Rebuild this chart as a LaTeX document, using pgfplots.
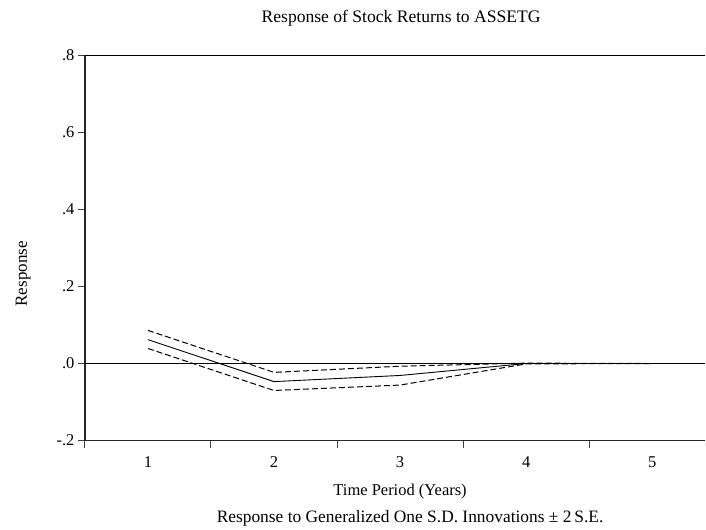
\documentclass[border=0pt]{standalone}
\usepackage{pgfplots}
\pgfplotsset{compat=1.18}
\usepackage{pgfplotstable}
\usepackage{fontspec}
\setmainfont{Liberation Serif}

% Impulse response: x = period, resp = response, up/lo = +/- 2 S.E. bands
\pgfplotstableread{
x  resp    up      lo
1  0.062   0.086   0.039
2  -0.047  -0.023  -0.070
3  -0.031  -0.007  -0.056
4  0.000   0.001   -0.001
5  0.000   0.000   0.000
}\irf

\begin{document}
\begin{tikzpicture}
\begin{axis}[
  at={(0pt,0pt)}, anchor=south west,
  scale only axis,
  width=621pt, height=385.5pt,
  xmin=0.5, xmax=5.4208,
  ymin=-0.2, ymax=0.8,
  axis x line*=bottom, axis y line*=left,
  axis line style={line width=1.5pt, black!85, -},
  xtick={1,2,3,4,5},
  xticklabels={1,2,3,4,5},
  minor xtick={0.5,1.5,2.5,3.5,4.5},
  ytick={-0.2,0,0.2,0.4,0.6,0.8},
  yticklabels={-.2,.0,.2,.4,.6,.8},
  tick align=outside,
  major tick length=7pt,
  minor tick length=7pt,
  major x tick style={draw=none},
  every tick/.style={black!75, line width=1pt},
  ticklabel style={font=\fontsize{16.5}{19}\selectfont},
  xticklabel style={anchor=base, yshift=-20pt},
  yticklabel style={anchor=east},
  title={Response of Stock Returns to ASSETG},
  title style={font=\fontsize{17.6}{20}\selectfont, at={(axis description cs:0.5,1)}, anchor=base, xshift=6pt, yshift=27pt},
  xlabel={Time Period (Years)},
  xlabel style={font=\fontsize{16.5}{19}\selectfont, at={(axis description cs:0.5,0)}, anchor=base, xshift=5pt, yshift=-55pt},
  ylabel={Response},
  ylabel style={font=\fontsize{17}{20}\selectfont, at={(axis description cs:-0.0998,0.433)}, anchor=center},
  clip=false,
]
\addplot[black, line width=0.8pt] coordinates {(0.5,0) (5.4208,0)};
\addplot[black, line width=0.9pt] table[x=x, y=resp] {\irf};
\addplot[black, line width=1pt, dash pattern=on 6pt off 3pt] table[x=x, y=up] {\irf};
\addplot[black, line width=1pt, dash pattern=on 6pt off 3pt] table[x=x, y=lo] {\irf};
% top frame line
\draw[black, line width=1.3pt] (rel axis cs:0,1) -- (rel axis cs:1,1);
\node[font=\fontsize{17.4}{20}\selectfont, anchor=base] at ([xshift=15pt, yshift=-82pt]axis description cs:0.5,0)
  {Response to Generalized One S.D. Innovations ± 2\,S.E.};
\end{axis}
\path (-85pt,-88pt) rectangle (621pt,441pt);
\end{tikzpicture}
\end{document}
